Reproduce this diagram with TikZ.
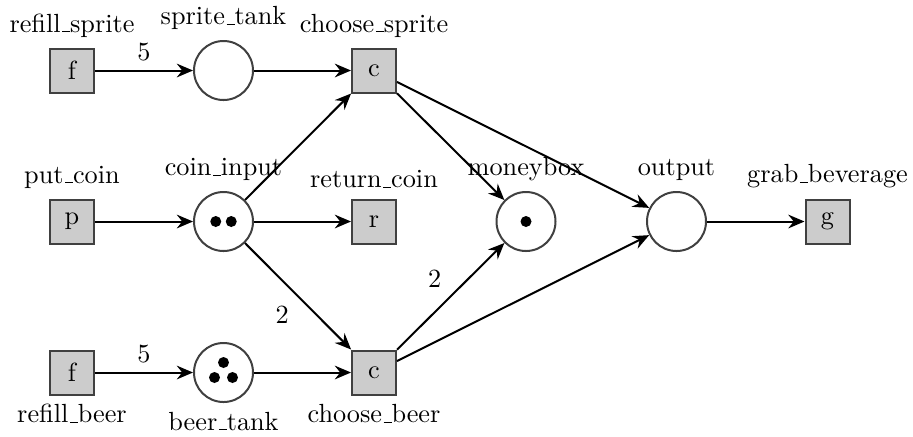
\documentclass[tikz,border=0pt]{standalone}
\usetikzlibrary{arrows.meta}
\newcommand\usc{\leavevmode\kern.06em\vbox{\hrule width.3em}}
\begin{document}
\begin{tikzpicture}[x=0.4pt,y=-0.4pt,
  every node/.style={font=\fontsize{10.5}{12.6}\selectfont},
  every label/.style={font=\fontsize{10.5}{12.6}\selectfont},
  place/.style={circle,draw=black!75,thick,inner sep=0pt,minimum size=23.6pt},
  transition/.style={rectangle,draw=black!75,fill=black!20,thick,inner sep=0pt,minimum size=17.6pt},
  tok/.style={fill=black},
  arc/.style={-{Stealth[length=6.5pt,width=5.5pt,inset=2.2pt]},thick}]
\useasboundingbox (0,0) rectangle (913,436);
% top row
\node[transition,label={[label distance=0.6pt]above:{refill\usc sprite}}] (rs) at (72,70.5) {f};
\node[place,label={[label distance=0.6pt]above:{sprite\usc tank}}] (st) at (223.5,70.5) {};
\node[transition,label={[label distance=0.6pt]above:{choose\usc sprite}}] (cs) at (374,70.5) {c};
% middle row
\node[transition,label={[label distance=0.6pt]above:{put\usc coin}}] (pc) at (72,221.5) {p};
\node[place,label={[label distance=0.6pt]above:{coin\usc input}}] (ci) at (223.5,221.5) {};
\node[transition,label={[label distance=0.6pt]above:{return\usc coin}}] (rc) at (374,221.5) {r};
\node[place,label={[label distance=0.6pt]above:{moneybox}}] (mb) at (526,221.5) {};
\node[place,label={[label distance=0.6pt]above:{output}}] (out) at (676.5,221.5) {};
\node[transition,label={[label distance=0.6pt]above:{grab\usc beverage}}] (gb) at (827.5,221.5) {g};
% bottom row
\node[transition,label=below:{refill\usc beer}] (rb) at (72,372.5) {f};
\node[place,label=below:{beer\usc tank}] (bt) at (223.5,372.5) {};
\node[transition,label=below:{choose\usc beer}] (cb) at (374,372.5) {c};
% tokens
\fill[tok] ([xshift=-3.1pt]ci.center) circle (2.2pt);
\fill[tok] ([xshift=3.1pt]ci.center) circle (2.2pt);
\fill[tok] (mb.center) circle (2.2pt);
\fill[tok] ([yshift=4pt]bt.center) circle (2.2pt);
\fill[tok] ([xshift=-3.6pt,yshift=-2pt]bt.center) circle (2.2pt);
\fill[tok] ([xshift=3.6pt,yshift=-2pt]bt.center) circle (2.2pt);
% arcs
\draw[arc] (rs) -- node[above] {5} (st);
\draw[arc] (st) -- (cs);
\draw[arc] (pc) -- (ci);
\draw[arc] (ci) -- (cs);
\draw[arc] (ci) -- (rc);
\draw[arc] (ci) -- node[below left] {2} (cb);
\draw[arc] (cs) -- (mb);
\draw[arc] (cs) -- (out);
\draw[arc] (cb) -- node[above left] {2} (mb);
\draw[arc] (cb) -- (out);
\draw[arc] (out) -- (gb);
\draw[arc] (rb) -- node[above] {5} (bt);
\draw[arc] (bt) -- (cb);
\end{tikzpicture}
\end{document}
